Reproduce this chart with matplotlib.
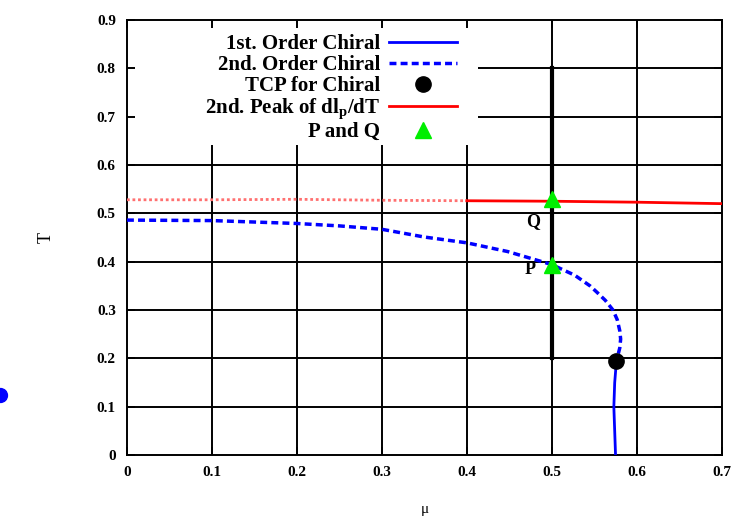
import numpy as np
import matplotlib.pyplot as plt
from matplotlib.lines import Line2D
from matplotlib.patches import Rectangle

plt.rcParams['font.family'] = ['Liberation Serif', 'DejaVu Serif']
plt.rcParams['font.weight'] = 'bold'
plt.rcParams['mathtext.fontset'] = 'custom'
plt.rcParams['mathtext.rm'] = 'Liberation Serif:bold'
plt.rcParams['mathtext.it'] = 'Liberation Serif:bold'
plt.rcParams['mathtext.default'] = 'rm'

# 2nd order chiral transition (dashed blue)
mu_2nd = [0.0, 0.1, 0.2, 0.25, 0.3, 0.35, 0.4, 0.448, 0.5, 0.527, 0.545, 0.553,
          0.563, 0.572, 0.577, 0.58, 0.581, 0.58, 0.578, 0.576]
T_2nd = [0.486, 0.485, 0.479, 0.474, 0.467, 0.451, 0.439, 0.421, 0.394, 0.372,
         0.350, 0.337, 0.320, 0.300, 0.280, 0.257, 0.240, 0.222, 0.208, 0.194]

# 1st order chiral transition (solid blue)
mu_1st = [0.576, 0.574, 0.573, 0.574, 0.575]
T_1st = [0.194, 0.15, 0.10, 0.05, 0.0]

# tricritical point
mu_tcp = [0.576]
T_tcp = [0.194]

# 2nd peak of dl_p/dT (red), dotted part then solid part
mu_peak_dot = [0.0, 0.1, 0.2, 0.3, 0.4]
T_peak_dot = [0.528, 0.528, 0.529, 0.527, 0.526]
mu_peak = [0.4, 0.5, 0.6, 0.7]
T_peak = [0.526, 0.525, 0.523, 0.520]

# P and Q points and where their labels sit
mu_pq = [0.5, 0.5]
T_pq = [0.394, 0.53]
pq_names = ['P', 'Q']
mu_pq_label = [0.475, 0.478]
T_pq_label = [0.383, 0.482]

# vertical line at mu = 0.5
mu_vline = [0.5, 0.5]
T_vline = [0.2, 0.8]

xticks = [0, 0.1, 0.2, 0.3, 0.4, 0.5, 0.6, 0.7]
yticks = [0, 0.1, 0.2, 0.3, 0.4, 0.5, 0.6, 0.7, 0.8, 0.9]

fig = plt.figure(figsize=(7.38, 5.22), dpi=100)
ax = fig.add_axes([0.172, 0.128, 0.806, 0.834])

# grid drawn by hand so the legend box can hide it but not the ticks
for v in xticks[1:-1]:
    ax.axvline(v, color='black', lw=1.4, zorder=0.5)
for v in yticks[1:-1]:
    ax.axhline(v, color='black', lw=1.4, zorder=0.5)
ax.add_patch(Rectangle((0, 0.713), 0.59, 0.287, transform=ax.transAxes,
                       facecolor='white', edgecolor='none', zorder=1))

ax.plot(mu_vline, T_vline, color='black', lw=3, zorder=2)
ax.plot(mu_1st, T_1st, color='blue', lw=2, label='1st. Order Chiral', zorder=3)
ax.plot(mu_2nd, T_2nd, color='blue', lw=2.5, linestyle=(0, (2, 1.2)),
        label='2nd. Order Chiral', zorder=3)
ax.plot(mu_tcp, T_tcp, 'o', color='black', ms=11, label='TCP for Chiral', zorder=4)
ax.plot(mu_peak_dot, T_peak_dot, color='#ff7070', lw=2, linestyle=(0, (1, 1)), zorder=3)
ax.plot(mu_peak, T_peak, color='red', lw=2, label='2nd. Peak of dl$_\\mathrm{p}$/dT', zorder=3)
ax.plot(mu_pq, T_pq, '^', color='#00ee00', ms=11, label='P and Q', zorder=5)

for m, t, name in zip(mu_pq_label, T_pq_label, pq_names):
    ax.text(m, t, name, fontsize=13, ha='center', va='center', zorder=6)

ax.set_xlim(0, 0.7)
ax.set_ylim(0, 0.9)
ax.set_xticks(xticks)
ax.set_yticks(yticks)
ax.set_xticklabels(['0' if v == 0 else f'{v:.1f}' for v in xticks], fontsize=11)
ax.set_yticklabels(['0' if v == 0 else f'{v:.1f}' for v in yticks], fontsize=11)
ax.tick_params(direction='in', length=6, width=1.4, top=True, right=True, pad=8)
for s in ax.spines.values():
    s.set_linewidth(1.4)

ax.set_xlabel('μ', fontsize=11, fontweight='normal', labelpad=17)
ax.set_ylabel('T', fontsize=13, labelpad=30)

ax.legend(loc='upper right', bbox_to_anchor=(0.58, 1.0), frameon=False,
          markerfirst=False, fontsize=15, handlelength=3.3, labelspacing=0.04,
          handletextpad=0.4, borderaxespad=0.3)

# stray blue blob at the left edge of the page
fig.add_artist(Line2D([0.0], [1 - 395 / 522], marker='o', color='blue', ms=10,
                      transform=fig.transFigure))

plt.savefig('out.png', dpi=100)
